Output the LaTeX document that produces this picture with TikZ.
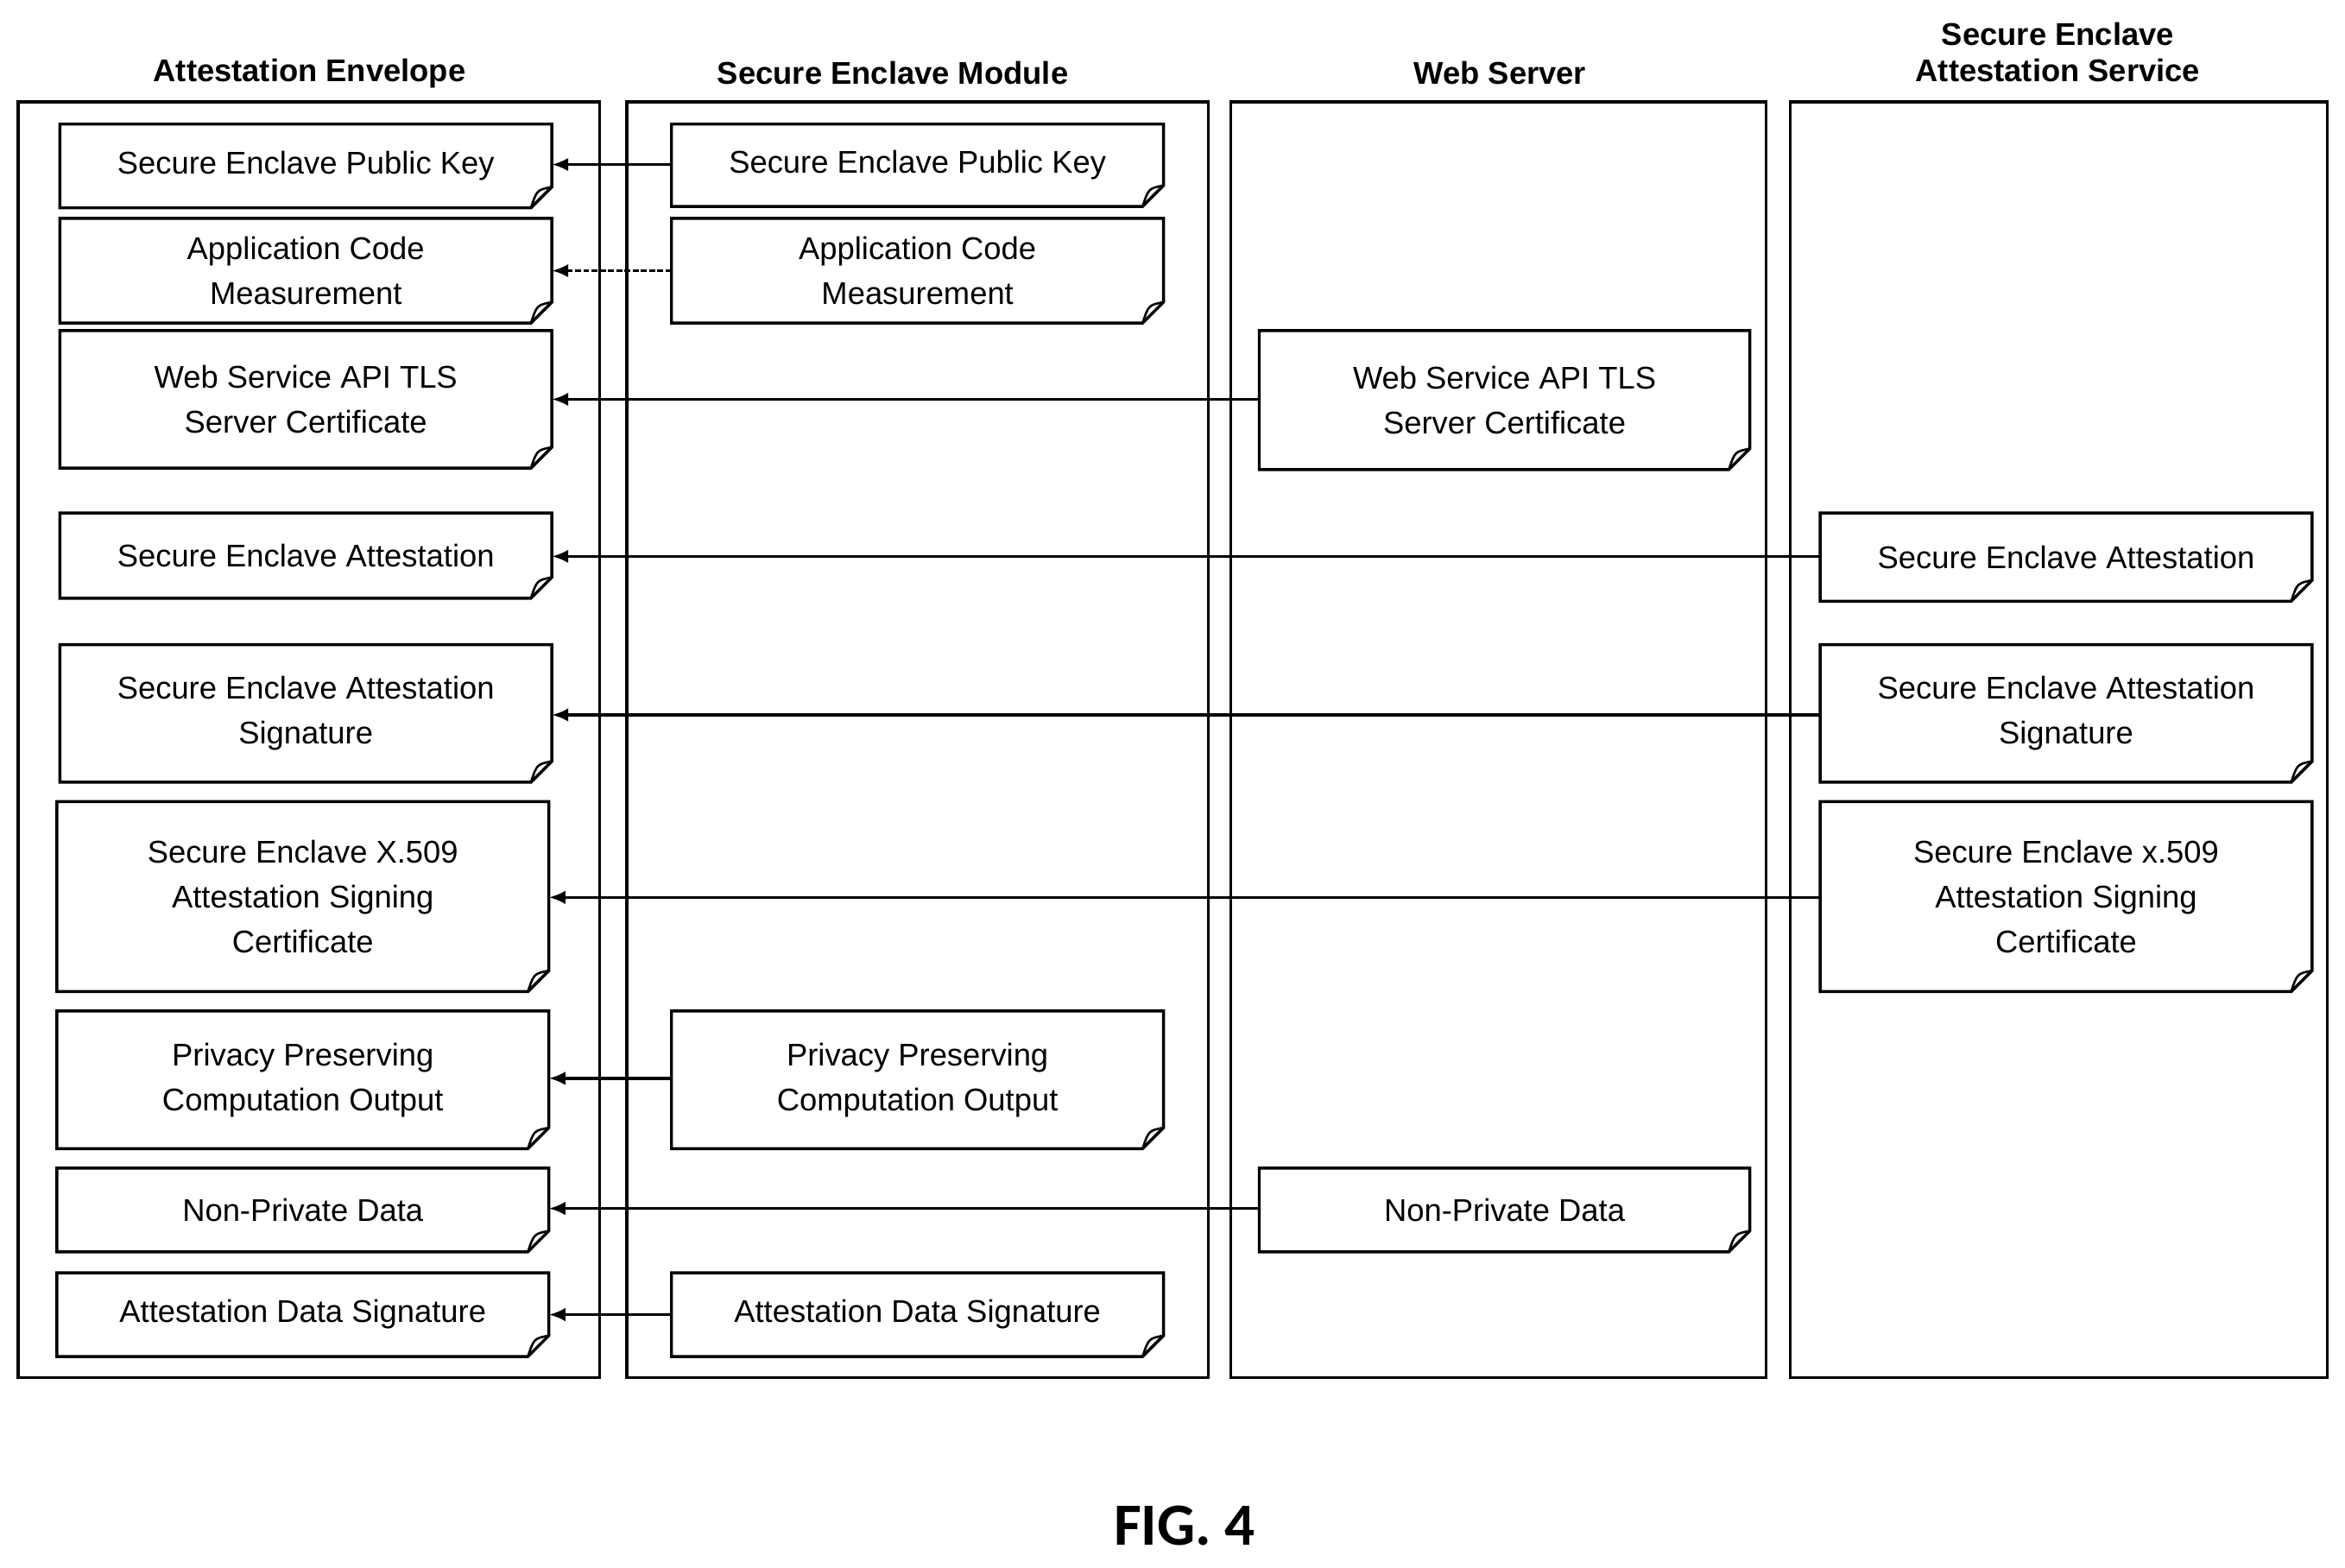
\documentclass[tikz,border=0pt]{standalone}
\usetikzlibrary{arrows.meta}
\usepackage{fontspec}
\setmainfont{Liberation Sans}
\newfontfamily\figfont{Carlito}
\begin{document}
\begin{tikzpicture}[x=1pt,y=-1pt,
  col/.style={draw,line width=2pt},
  ttl/.style={font=\fontsize{21}{24}\selectfont\bfseries,align=center},
  txt/.style={font=\fontsize{21}{30}\selectfont,align=center},
  arr/.style={-{Latex[length=11pt,width=9pt]},line width=2pt},
  dsh/.style={arr,dash pattern=on 4pt off 1.5pt}]
\useasboundingbox (0,0) rectangle (1568,1048);
\fill[white] (0,0) rectangle (1568,1048);
\newcommand{\note}[6]{% name, x1,y1,x2,y2,text
  \draw[line width=2pt] (#2,#3)--(#4,#3)--(#4,#5-14)--(#4-14,#5)--(#2,#5)--cycle;
  \draw[line width=1.5pt] (#4,#5-14) .. controls (#4-10,#5-12) .. (#4-14,#5);
  \node[txt,inner sep=0pt,minimum width={#4-#2}] (#1) at ({(#2+#4)/2},{(#3+#5)/2}) {#6};
  \coordinate (#1-w) at (#2,{(#3+#5)/2});
  \coordinate (#1-e) at (#4,{(#3+#5)/2});}
\draw[col] (12,68) rectangle (401,921);
\draw[col] (419,68) rectangle (808,921);
\draw[col] (823,68) rectangle (1181,921);
\draw[col] (1197,68) rectangle (1556,921);
\node[ttl] (t1) at (207,49) {Attestation Envelope};
\node[ttl] (t2) at (597,49) {Secure Enclave Module};
\node[ttl] (t3) at (1003,49) {Web Server};
\node[ttl] (t4) at (1376,35) {Secure Enclave\\Attestation Service};
\note{l1}{40}{83}{369}{139}{Secure Enclave Public Key}
\note{l2}{40}{146}{369}{216}{Application Code\\Measurement}
\note{l3}{40}{221}{369}{313}{Web Service API TLS\\Server Certificate}
\note{l4}{40}{343}{369}{400}{Secure Enclave Attestation}
\note{l5}{40}{431}{369}{523}{Secure Enclave Attestation\\Signature}
\note{l6}{38}{536}{367}{663}{Secure Enclave X.509\\Attestation Signing\\Certificate}
\note{l7}{38}{676}{367}{768}{Privacy Preserving\\Computation Output}
\note{l8}{38}{781}{367}{837}{Non-Private Data}
\note{l9}{38}{851}{367}{907}{Attestation Data Signature}
\note{m1}{449}{83}{778}{138}{Secure Enclave Public Key}
\note{m2}{449}{146}{778}{216}{Application Code\\Measurement}
\note{m7}{449}{676}{778}{768}{Privacy Preserving\\Computation Output}
\note{m9}{449}{851}{778}{907}{Attestation Data Signature}
\note{w3}{842}{221}{1170}{314}{Web Service API TLS\\Server Certificate}
\note{w8}{842}{781}{1170}{837}{Non-Private Data}
\note{s4}{1217}{343}{1546}{402}{Secure Enclave Attestation}
\note{s5}{1217}{431}{1546}{523}{Secure Enclave Attestation\\Signature}
\note{s6}{1217}{536}{1546}{663}{Secure Enclave x.509\\Attestation Signing\\Certificate}
\draw[arr] (m1-w|-0,110) -- (l1-e|-0,110);
\draw[dsh] (m2-w|-0,181) -- (l2-e|-0,181);
\draw[arr] (w3-w|-0,267) -- (l3-e|-0,267);
\draw[arr] (s4-w|-0,372) -- (l4-e|-0,372);
\draw[arr] (s5-w|-0,478) -- (l5-e|-0,478);
\draw[arr] (s6-w|-0,600) -- (l6-e|-0,600);
\draw[arr] (m7-w|-0,721) -- (l7-e|-0,721);
\draw[arr] (w8-w|-0,808) -- (l8-e|-0,808);
\draw[arr] (m9-w|-0,879) -- (l9-e|-0,879);
\node[font=\figfont\fontsize{40}{44}\selectfont\bfseries] (fig) at (792,1020) {FIG. 4};
\end{tikzpicture}
\end{document}
